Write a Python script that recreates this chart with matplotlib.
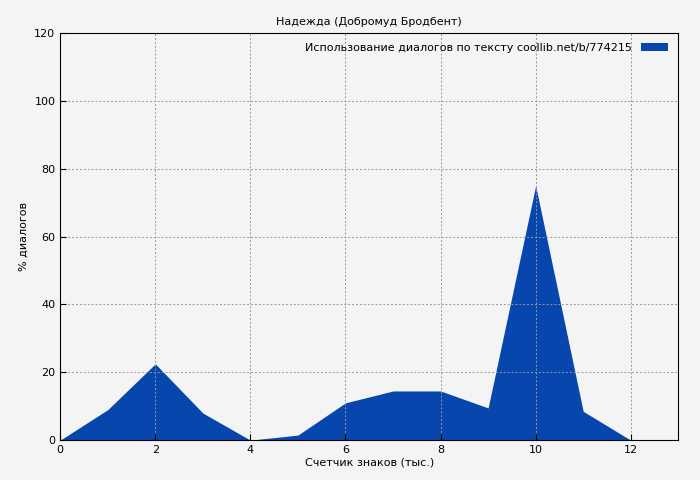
import matplotlib
matplotlib.use("Agg")
import matplotlib.pyplot as plt

x = [0, 1, 2, 3, 4, 5, 6, 7, 8, 9, 10, 11, 12]
y = [0, 9, 22.5, 8, 0, 1.5, 11, 14.5, 14.5, 9.5, 75, 8.5, 0]
xticks = [0, 2, 4, 6, 8, 10, 12]
yticks = [0, 20, 40, 60, 80, 100, 120]
color = "#0646ad"

fig = plt.figure(figsize=(7, 4.8), dpi=100, facecolor="#f4f4f4")
ax = fig.add_axes([0.086, 0.083, 0.883, 0.848], facecolor="#f4f4f4")
ax.fill_between(x, y, 0, color=color, linewidth=0, label="Использование диалогов по тексту coollib.net/b/774215")
ax.set_xlim(0, 13)
ax.set_ylim(0, 120)
ax.set_xticks(xticks)
ax.set_yticks(yticks)
ax.grid(True, color="#999999", linestyle=(0, (2, 2)), linewidth=0.7)
ax.tick_params(labelsize=8, direction="in", length=4)
ax.set_title("Надежда (Добромуд Бродбент)", fontsize=8)
ax.set_xlabel("Счетчик знаков (тыс.)", fontsize=8, labelpad=2)
ax.set_ylabel("% диалогов", fontsize=8)
leg = ax.legend(loc="upper right", fontsize=8, frameon=False, markerfirst=False, handlelength=2.5)
fig.savefig("out.png", dpi=100, facecolor=fig.get_facecolor())
